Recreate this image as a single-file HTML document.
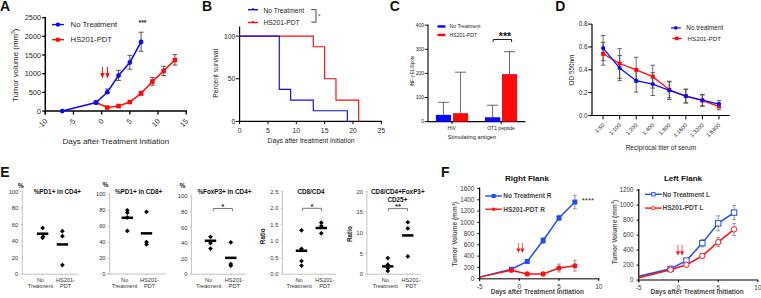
<!DOCTYPE html>
<html><head><meta charset="utf-8"><style>
html,body{margin:0;padding:0;background:#fff;width:761px;height:298px;overflow:hidden}
svg{display:block}
text{font-family:"Liberation Sans", sans-serif}
</style></head><body>
<svg width="761" height="298" viewBox="0 0 761 298">
<rect width="761" height="298" fill="#fff"/>
<text x="0.00" y="10.50" font-size="14" text-anchor="start" font-weight="bold" fill="#111">A</text>
<line x1="45.30" y1="16.90" x2="45.30" y2="114.60" stroke="#000" stroke-width="1.5"/>
<line x1="45.30" y1="111.10" x2="186.88" y2="111.10" stroke="#000" stroke-width="1.5"/>
<line x1="42.20" y1="111.10" x2="45.30" y2="111.10" stroke="#000" stroke-width="1.3"/>
<text x="41.00" y="113.70" font-size="7.3" text-anchor="end" font-weight="normal" fill="#1e1e1e">0</text>
<line x1="42.20" y1="92.40" x2="45.30" y2="92.40" stroke="#000" stroke-width="1.3"/>
<text x="41.00" y="95.00" font-size="7.3" text-anchor="end" font-weight="normal" fill="#1e1e1e">500</text>
<line x1="42.20" y1="73.70" x2="45.30" y2="73.70" stroke="#000" stroke-width="1.3"/>
<text x="41.00" y="76.30" font-size="7.3" text-anchor="end" font-weight="normal" fill="#1e1e1e">1000</text>
<line x1="42.20" y1="55.00" x2="45.30" y2="55.00" stroke="#000" stroke-width="1.3"/>
<text x="41.00" y="57.60" font-size="7.3" text-anchor="end" font-weight="normal" fill="#1e1e1e">1500</text>
<line x1="42.20" y1="36.30" x2="45.30" y2="36.30" stroke="#000" stroke-width="1.3"/>
<text x="41.00" y="38.90" font-size="7.3" text-anchor="end" font-weight="normal" fill="#1e1e1e">2000</text>
<line x1="42.20" y1="17.60" x2="45.30" y2="17.60" stroke="#000" stroke-width="1.3"/>
<text x="41.00" y="20.20" font-size="7.3" text-anchor="end" font-weight="normal" fill="#1e1e1e">2500</text>
<line x1="45.30" y1="111.10" x2="45.30" y2="114.60" stroke="#000" stroke-width="1.3"/>
<text x="47.80" y="121.70" font-size="7.3" text-anchor="end" font-weight="normal" fill="#1e1e1e" transform="rotate(-45 47.8 121.7)">-10</text>
<line x1="73.47" y1="111.10" x2="73.47" y2="114.60" stroke="#000" stroke-width="1.3"/>
<text x="75.97" y="121.70" font-size="7.3" text-anchor="end" font-weight="normal" fill="#1e1e1e" transform="rotate(-45 75.975 121.7)">-5</text>
<line x1="101.65" y1="111.10" x2="101.65" y2="114.60" stroke="#000" stroke-width="1.3"/>
<text x="104.15" y="121.70" font-size="7.3" text-anchor="end" font-weight="normal" fill="#1e1e1e" transform="rotate(-45 104.14999999999999 121.7)">0</text>
<line x1="129.82" y1="111.10" x2="129.82" y2="114.60" stroke="#000" stroke-width="1.3"/>
<text x="132.32" y="121.70" font-size="7.3" text-anchor="end" font-weight="normal" fill="#1e1e1e" transform="rotate(-45 132.325 121.7)">5</text>
<line x1="158.00" y1="111.10" x2="158.00" y2="114.60" stroke="#000" stroke-width="1.3"/>
<text x="160.50" y="121.70" font-size="7.3" text-anchor="end" font-weight="normal" fill="#1e1e1e" transform="rotate(-45 160.5 121.7)">10</text>
<line x1="186.18" y1="111.10" x2="186.18" y2="114.60" stroke="#000" stroke-width="1.3"/>
<text x="188.68" y="121.70" font-size="7.3" text-anchor="end" font-weight="normal" fill="#1e1e1e" transform="rotate(-45 188.675 121.7)">15</text>
<text x="18.30" y="65.30" font-size="7.9" text-anchor="middle" font-weight="normal" fill="#1e1e1e" transform="rotate(-90 18.3 65.3)">Tumor volume (mm<tspan dy="-3" font-size="5">3</tspan><tspan dy="3">)</tspan></text>
<text x="115.80" y="143.60" font-size="8.0" text-anchor="middle" font-weight="normal" fill="#1e1e1e">Days after Treatment Initiation</text>
<line x1="52.00" y1="24.60" x2="63.90" y2="24.60" stroke="#0a0aff" stroke-width="1.4"/>
<circle cx="57.90" cy="24.60" r="2.2" fill="#0a0aff" stroke="none" stroke-width="0"/>
<text x="70.60" y="27.10" font-size="7.7" text-anchor="start" font-weight="normal" fill="#1e1e1e">No Treatment</text>
<line x1="52.00" y1="39.70" x2="63.90" y2="39.70" stroke="#ff0a0a" stroke-width="1.4"/>
<rect x="55.90" y="37.70" width="4.00" height="4.00" fill="#ff0a0a" stroke="none" stroke-width="0"/>
<text x="70.60" y="42.20" font-size="7.7" text-anchor="start" font-weight="normal" fill="#1e1e1e">HS201-PDT</text>
<text x="142.50" y="25.20" font-size="6.8" text-anchor="middle" font-weight="bold" fill="#222">***</text>
<line x1="141.09" y1="91.28" x2="141.09" y2="95.02" stroke="#444" stroke-width="0.9"/>
<line x1="138.69" y1="91.28" x2="143.50" y2="91.28" stroke="#444" stroke-width="0.9"/>
<line x1="138.69" y1="95.02" x2="143.50" y2="95.02" stroke="#444" stroke-width="0.9"/>
<line x1="152.37" y1="77.44" x2="152.37" y2="85.29" stroke="#444" stroke-width="0.9"/>
<line x1="149.97" y1="77.44" x2="154.77" y2="77.44" stroke="#444" stroke-width="0.9"/>
<line x1="149.97" y1="85.29" x2="154.77" y2="85.29" stroke="#444" stroke-width="0.9"/>
<line x1="163.63" y1="66.22" x2="163.63" y2="75.57" stroke="#444" stroke-width="0.9"/>
<line x1="161.23" y1="66.22" x2="166.03" y2="66.22" stroke="#444" stroke-width="0.9"/>
<line x1="161.23" y1="75.57" x2="166.03" y2="75.57" stroke="#444" stroke-width="0.9"/>
<line x1="174.90" y1="54.63" x2="174.90" y2="65.10" stroke="#444" stroke-width="0.9"/>
<line x1="172.50" y1="54.63" x2="177.30" y2="54.63" stroke="#444" stroke-width="0.9"/>
<line x1="172.50" y1="65.10" x2="177.30" y2="65.10" stroke="#444" stroke-width="0.9"/>
<line x1="107.28" y1="89.03" x2="107.28" y2="93.52" stroke="#444" stroke-width="0.9"/>
<line x1="104.88" y1="89.03" x2="109.69" y2="89.03" stroke="#444" stroke-width="0.9"/>
<line x1="104.88" y1="93.52" x2="109.69" y2="93.52" stroke="#444" stroke-width="0.9"/>
<line x1="118.55" y1="70.33" x2="118.55" y2="80.43" stroke="#444" stroke-width="0.9"/>
<line x1="116.15" y1="70.33" x2="120.95" y2="70.33" stroke="#444" stroke-width="0.9"/>
<line x1="116.15" y1="80.43" x2="120.95" y2="80.43" stroke="#444" stroke-width="0.9"/>
<line x1="129.82" y1="55.37" x2="129.82" y2="69.21" stroke="#444" stroke-width="0.9"/>
<line x1="127.42" y1="55.37" x2="132.22" y2="55.37" stroke="#444" stroke-width="0.9"/>
<line x1="127.42" y1="69.21" x2="132.22" y2="69.21" stroke="#444" stroke-width="0.9"/>
<line x1="141.09" y1="32.19" x2="141.09" y2="51.26" stroke="#444" stroke-width="0.9"/>
<line x1="138.69" y1="32.19" x2="143.50" y2="32.19" stroke="#444" stroke-width="0.9"/>
<line x1="138.69" y1="51.26" x2="143.50" y2="51.26" stroke="#444" stroke-width="0.9"/>
<polyline points="96.01,102.50 107.28,107.55 118.55,106.05 129.82,102.01 141.09,93.33 152.37,81.55 163.63,70.89 174.90,60.05" fill="none" stroke="#ff0a0a" stroke-width="1.5"/>
<rect x="93.71" y="100.20" width="4.60" height="4.60" fill="#ff0a0a" stroke="none" stroke-width="0"/>
<rect x="104.98" y="105.25" width="4.60" height="4.60" fill="#ff0a0a" stroke="none" stroke-width="0"/>
<rect x="116.25" y="103.75" width="4.60" height="4.60" fill="#ff0a0a" stroke="none" stroke-width="0"/>
<rect x="127.52" y="99.71" width="4.60" height="4.60" fill="#ff0a0a" stroke="none" stroke-width="0"/>
<rect x="138.79" y="91.03" width="4.60" height="4.60" fill="#ff0a0a" stroke="none" stroke-width="0"/>
<rect x="150.06" y="79.25" width="4.60" height="4.60" fill="#ff0a0a" stroke="none" stroke-width="0"/>
<rect x="161.33" y="68.59" width="4.60" height="4.60" fill="#ff0a0a" stroke="none" stroke-width="0"/>
<rect x="172.60" y="57.75" width="4.60" height="4.60" fill="#ff0a0a" stroke="none" stroke-width="0"/>
<polyline points="62.20,111.10 96.01,102.50 107.28,92.21 118.55,75.53 129.82,62.48 141.09,41.98" fill="none" stroke="#0a0aff" stroke-width="1.5"/>
<circle cx="62.20" cy="111.10" r="2.4" fill="#0a0aff" stroke="none" stroke-width="0"/>
<circle cx="96.01" cy="102.50" r="2.4" fill="#0a0aff" stroke="none" stroke-width="0"/>
<circle cx="107.28" cy="92.21" r="2.4" fill="#0a0aff" stroke="none" stroke-width="0"/>
<circle cx="118.55" cy="75.53" r="2.4" fill="#0a0aff" stroke="none" stroke-width="0"/>
<circle cx="129.82" cy="62.48" r="2.4" fill="#0a0aff" stroke="none" stroke-width="0"/>
<circle cx="141.09" cy="41.98" r="2.4" fill="#0a0aff" stroke="none" stroke-width="0"/>
<line x1="102.40" y1="67.00" x2="102.40" y2="73.50" stroke="#ff0a0a" stroke-width="1.0"/>
<path d="M100.20 73.00L104.60 73.00L102.40 78.50Z" fill="#ff0a0a"/>
<line x1="107.50" y1="67.00" x2="107.50" y2="73.50" stroke="#ff0a0a" stroke-width="1.0"/>
<path d="M105.30 73.00L109.70 73.00L107.50 78.50Z" fill="#ff0a0a"/>
<text x="202.00" y="10.50" font-size="14" text-anchor="start" font-weight="bold" fill="#111">B</text>
<line x1="239.60" y1="26.50" x2="239.60" y2="121.40" stroke="#000" stroke-width="1.2"/>
<line x1="239.60" y1="121.40" x2="381.95" y2="121.40" stroke="#000" stroke-width="1.2"/>
<line x1="235.80" y1="121.40" x2="239.60" y2="121.40" stroke="#000" stroke-width="1.0"/>
<text x="235.40" y="123.90" font-size="6.8" text-anchor="end" font-weight="normal" fill="#1e1e1e">0</text>
<line x1="235.80" y1="78.75" x2="239.60" y2="78.75" stroke="#000" stroke-width="1.0"/>
<text x="235.40" y="81.25" font-size="6.8" text-anchor="end" font-weight="normal" fill="#1e1e1e">50</text>
<line x1="235.80" y1="36.10" x2="239.60" y2="36.10" stroke="#000" stroke-width="1.0"/>
<text x="235.40" y="38.60" font-size="6.8" text-anchor="end" font-weight="normal" fill="#1e1e1e">100</text>
<line x1="239.60" y1="121.40" x2="239.60" y2="124.20" stroke="#000" stroke-width="1.0"/>
<text x="239.60" y="132.80" font-size="6.8" text-anchor="middle" font-weight="normal" fill="#1e1e1e">0</text>
<line x1="267.95" y1="121.40" x2="267.95" y2="124.20" stroke="#000" stroke-width="1.0"/>
<text x="267.95" y="132.80" font-size="6.8" text-anchor="middle" font-weight="normal" fill="#1e1e1e">5</text>
<line x1="296.30" y1="121.40" x2="296.30" y2="124.20" stroke="#000" stroke-width="1.0"/>
<text x="296.30" y="132.80" font-size="6.8" text-anchor="middle" font-weight="normal" fill="#1e1e1e">10</text>
<line x1="324.65" y1="121.40" x2="324.65" y2="124.20" stroke="#000" stroke-width="1.0"/>
<text x="324.65" y="132.80" font-size="6.8" text-anchor="middle" font-weight="normal" fill="#1e1e1e">15</text>
<line x1="353.00" y1="121.40" x2="353.00" y2="124.20" stroke="#000" stroke-width="1.0"/>
<text x="353.00" y="132.80" font-size="6.8" text-anchor="middle" font-weight="normal" fill="#1e1e1e">20</text>
<line x1="381.35" y1="121.40" x2="381.35" y2="124.20" stroke="#000" stroke-width="1.0"/>
<text x="381.35" y="132.80" font-size="6.8" text-anchor="middle" font-weight="normal" fill="#1e1e1e">25</text>
<text x="217.90" y="73.30" font-size="6.9" text-anchor="middle" font-weight="normal" fill="#1e1e1e" transform="rotate(-90 217.9 73.3)">Percent survival</text>
<text x="311.10" y="143.30" font-size="6.7" text-anchor="middle" font-weight="normal" fill="#1e1e1e">Days after treatment initiation</text>
<line x1="248.00" y1="9.70" x2="258.00" y2="9.70" stroke="#0a0aff" stroke-width="1.4"/>
<rect x="252.30" y="8.20" width="1.60" height="1.20" fill="#0a0aff" stroke="none" stroke-width="0"/>
<text x="263.50" y="12.50" font-size="6.7" text-anchor="start" font-weight="normal" fill="#1e1e1e">No Treatment</text>
<line x1="248.00" y1="22.50" x2="258.00" y2="22.50" stroke="#ff0a0a" stroke-width="1.4"/>
<rect x="252.30" y="21.00" width="1.60" height="1.20" fill="#ff0a0a" stroke="none" stroke-width="0"/>
<text x="263.50" y="24.90" font-size="6.7" text-anchor="start" font-weight="normal" fill="#1e1e1e">HS201-PDT</text>
<polyline points="311.30,9.60 316.00,9.60 316.00,22.20 311.30,22.20" fill="none" stroke="#333" stroke-width="0.9"/>
<text x="319.50" y="18.10" font-size="5.8" text-anchor="middle" font-weight="normal" fill="#1e1e1e">*</text>
<polyline points="239.60,36.10 313.31,36.10 313.31,46.76 324.65,46.76 324.65,78.75 335.99,78.75 335.99,100.08 358.67,100.08 358.67,121.40" fill="none" stroke="#ff0a0a" stroke-width="1.15"/>
<polyline points="239.60,36.10 279.29,36.10 279.29,89.41 290.63,89.41 290.63,100.08 313.31,100.08 313.31,110.74 347.33,110.74 347.33,121.40" fill="none" stroke="#0a0aff" stroke-width="1.15"/>
<text x="389.70" y="10.50" font-size="14" text-anchor="start" font-weight="bold" fill="#111">C</text>
<line x1="428.00" y1="24.50" x2="428.00" y2="121.60" stroke="#000" stroke-width="1.1"/>
<line x1="428.00" y1="121.60" x2="525.30" y2="121.60" stroke="#000" stroke-width="1.1"/>
<line x1="424.70" y1="121.60" x2="428.00" y2="121.60" stroke="#000" stroke-width="0.9"/>
<text x="424.00" y="123.40" font-size="5.0" text-anchor="end" font-weight="normal" fill="#1e1e1e">0</text>
<line x1="424.70" y1="97.50" x2="428.00" y2="97.50" stroke="#000" stroke-width="0.9"/>
<text x="424.00" y="99.30" font-size="5.0" text-anchor="end" font-weight="normal" fill="#1e1e1e">100</text>
<line x1="424.70" y1="73.40" x2="428.00" y2="73.40" stroke="#000" stroke-width="0.9"/>
<text x="424.00" y="75.20" font-size="5.0" text-anchor="end" font-weight="normal" fill="#1e1e1e">200</text>
<line x1="424.70" y1="49.30" x2="428.00" y2="49.30" stroke="#000" stroke-width="0.9"/>
<text x="424.00" y="51.10" font-size="5.0" text-anchor="end" font-weight="normal" fill="#1e1e1e">300</text>
<line x1="424.70" y1="25.20" x2="428.00" y2="25.20" stroke="#000" stroke-width="0.9"/>
<text x="424.00" y="27.00" font-size="5.0" text-anchor="end" font-weight="normal" fill="#1e1e1e">400</text>
<line x1="452.00" y1="121.60" x2="452.00" y2="124.20" stroke="#000" stroke-width="0.9"/>
<line x1="501.10" y1="121.60" x2="501.10" y2="124.20" stroke="#000" stroke-width="0.9"/>
<text x="451.70" y="129.70" font-size="5" text-anchor="middle" font-weight="normal" fill="#1e1e1e">HIV</text>
<text x="501.00" y="129.70" font-size="5" text-anchor="middle" font-weight="normal" fill="#1e1e1e">OT1 peptide</text>
<text x="472.00" y="138.90" font-size="5.7" text-anchor="middle" font-weight="normal" fill="#1e1e1e">Stimulating antigen</text>
<text x="413.60" y="71.00" font-size="4.5" text-anchor="middle" font-weight="normal" fill="#1e1e1e" transform="rotate(-90 413.6 71.0)">INF-γ ELISpots</text>
<rect x="437.50" y="25.20" width="8.00" height="2.50" fill="#0a0aff" stroke="none" stroke-width="0"/>
<text x="449.60" y="28.20" font-size="5.1" text-anchor="start" font-weight="normal" fill="#1e1e1e">No Treatment</text>
<rect x="437.50" y="33.70" width="8.00" height="2.50" fill="#ff0a0a" stroke="none" stroke-width="0"/>
<text x="449.60" y="36.70" font-size="5.1" text-anchor="start" font-weight="normal" fill="#1e1e1e">HS201-PDT</text>
<line x1="443.45" y1="114.85" x2="443.45" y2="102.32" stroke="#444" stroke-width="0.8"/>
<line x1="437.95" y1="102.32" x2="448.95" y2="102.32" stroke="#444" stroke-width="0.8"/>
<rect x="435.90" y="114.85" width="15.10" height="6.75" fill="#0a0aff" stroke="none" stroke-width="0"/>
<line x1="460.55" y1="113.16" x2="460.55" y2="72.19" stroke="#444" stroke-width="0.8"/>
<line x1="455.05" y1="72.19" x2="466.05" y2="72.19" stroke="#444" stroke-width="0.8"/>
<rect x="453.00" y="113.16" width="15.10" height="8.44" fill="#ff0a0a" stroke="none" stroke-width="0"/>
<line x1="492.60" y1="117.26" x2="492.60" y2="105.21" stroke="#444" stroke-width="0.8"/>
<line x1="487.10" y1="105.21" x2="498.10" y2="105.21" stroke="#444" stroke-width="0.8"/>
<rect x="484.90" y="117.26" width="15.40" height="4.34" fill="#0a0aff" stroke="none" stroke-width="0"/>
<line x1="509.50" y1="74.12" x2="509.50" y2="51.71" stroke="#444" stroke-width="0.8"/>
<line x1="504.00" y1="51.71" x2="515.00" y2="51.71" stroke="#444" stroke-width="0.8"/>
<rect x="502.00" y="74.12" width="15.00" height="47.48" fill="#ff0a0a" stroke="none" stroke-width="0"/>
<polyline points="493.20,42.00 493.20,39.50 511.60,39.50 511.60,42.00" fill="none" stroke="#222" stroke-width="1.0"/>
<text x="505.00" y="40.20" font-size="10.5" text-anchor="middle" font-weight="bold" fill="#111">***</text>
<text x="555.20" y="10.50" font-size="14" text-anchor="start" font-weight="bold" fill="#111">D</text>
<line x1="592.00" y1="24.00" x2="592.00" y2="115.50" stroke="#000" stroke-width="1.2"/>
<line x1="592.00" y1="115.50" x2="729.70" y2="115.50" stroke="#000" stroke-width="1.2"/>
<line x1="588.20" y1="115.50" x2="592.00" y2="115.50" stroke="#000" stroke-width="1.0"/>
<text x="587.60" y="117.70" font-size="6.3" text-anchor="end" font-weight="normal" fill="#1e1e1e">0.0</text>
<line x1="588.20" y1="92.65" x2="592.00" y2="92.65" stroke="#000" stroke-width="1.0"/>
<text x="587.60" y="94.85" font-size="6.3" text-anchor="end" font-weight="normal" fill="#1e1e1e">0.2</text>
<line x1="588.20" y1="69.80" x2="592.00" y2="69.80" stroke="#000" stroke-width="1.0"/>
<text x="587.60" y="72.00" font-size="6.3" text-anchor="end" font-weight="normal" fill="#1e1e1e">0.4</text>
<line x1="588.20" y1="46.95" x2="592.00" y2="46.95" stroke="#000" stroke-width="1.0"/>
<text x="587.60" y="49.15" font-size="6.3" text-anchor="end" font-weight="normal" fill="#1e1e1e">0.6</text>
<line x1="588.20" y1="24.10" x2="592.00" y2="24.10" stroke="#000" stroke-width="1.0"/>
<text x="587.60" y="26.30" font-size="6.3" text-anchor="end" font-weight="normal" fill="#1e1e1e">0.8</text>
<line x1="603.10" y1="115.50" x2="603.10" y2="119.40" stroke="#000" stroke-width="1.0"/>
<text x="604.80" y="125.50" font-size="5.6" text-anchor="end" font-weight="normal" fill="#1e1e1e" transform="rotate(-45 604.8000000000001 125.5)">1:50</text>
<line x1="619.65" y1="115.50" x2="619.65" y2="119.40" stroke="#000" stroke-width="1.0"/>
<text x="621.35" y="125.50" font-size="5.6" text-anchor="end" font-weight="normal" fill="#1e1e1e" transform="rotate(-45 621.35 125.5)">1:100</text>
<line x1="636.20" y1="115.50" x2="636.20" y2="119.40" stroke="#000" stroke-width="1.0"/>
<text x="637.90" y="125.50" font-size="5.6" text-anchor="end" font-weight="normal" fill="#1e1e1e" transform="rotate(-45 637.9000000000001 125.5)">1:200</text>
<line x1="652.75" y1="115.50" x2="652.75" y2="119.40" stroke="#000" stroke-width="1.0"/>
<text x="654.45" y="125.50" font-size="5.6" text-anchor="end" font-weight="normal" fill="#1e1e1e" transform="rotate(-45 654.45 125.5)">1:400</text>
<line x1="669.30" y1="115.50" x2="669.30" y2="119.40" stroke="#000" stroke-width="1.0"/>
<text x="671.00" y="125.50" font-size="5.6" text-anchor="end" font-weight="normal" fill="#1e1e1e" transform="rotate(-45 671.0000000000001 125.5)">1:800</text>
<line x1="685.85" y1="115.50" x2="685.85" y2="119.40" stroke="#000" stroke-width="1.0"/>
<text x="687.55" y="125.50" font-size="5.6" text-anchor="end" font-weight="normal" fill="#1e1e1e" transform="rotate(-45 687.5500000000001 125.5)">1:1600</text>
<line x1="702.40" y1="115.50" x2="702.40" y2="119.40" stroke="#000" stroke-width="1.0"/>
<text x="704.10" y="125.50" font-size="5.6" text-anchor="end" font-weight="normal" fill="#1e1e1e" transform="rotate(-45 704.1000000000001 125.5)">1:3200</text>
<line x1="718.95" y1="115.50" x2="718.95" y2="119.40" stroke="#000" stroke-width="1.0"/>
<text x="720.65" y="125.50" font-size="5.6" text-anchor="end" font-weight="normal" fill="#1e1e1e" transform="rotate(-45 720.6500000000001 125.5)">1:6400</text>
<text x="574.40" y="70.00" font-size="6.4" text-anchor="middle" font-weight="normal" fill="#1e1e1e" transform="rotate(-90 574.4 70)">OD 550nm</text>
<text x="660.90" y="150.00" font-size="6.5" text-anchor="middle" font-weight="normal" fill="#1e1e1e">Reciprocal titer of serum</text>
<line x1="671.00" y1="27.90" x2="680.80" y2="27.90" stroke="#0a0aff" stroke-width="1.2"/>
<circle cx="675.70" cy="27.90" r="1.8" fill="#0a0aff" stroke="none" stroke-width="0"/>
<text x="686.30" y="29.80" font-size="6.4" text-anchor="start" font-weight="normal" fill="#1e1e1e">No treatment</text>
<line x1="672.30" y1="38.40" x2="681.70" y2="38.40" stroke="#ff0a0a" stroke-width="1.2"/>
<rect x="675.00" y="36.60" width="3.60" height="3.60" fill="#ff0a0a" stroke="none" stroke-width="0"/>
<text x="687.60" y="40.90" font-size="6.2" text-anchor="start" font-weight="normal" fill="#1e1e1e">HS201-PDT</text>
<line x1="603.10" y1="35.53" x2="603.10" y2="60.66" stroke="#444" stroke-width="0.8"/>
<line x1="600.80" y1="35.53" x2="605.40" y2="35.53" stroke="#444" stroke-width="0.8"/>
<line x1="600.80" y1="60.66" x2="605.40" y2="60.66" stroke="#444" stroke-width="0.8"/>
<line x1="603.10" y1="42.38" x2="603.10" y2="65.23" stroke="#444" stroke-width="0.8"/>
<line x1="600.80" y1="42.38" x2="605.40" y2="42.38" stroke="#444" stroke-width="0.8"/>
<line x1="600.80" y1="65.23" x2="605.40" y2="65.23" stroke="#444" stroke-width="0.8"/>
<line x1="619.65" y1="55.52" x2="619.65" y2="80.65" stroke="#444" stroke-width="0.8"/>
<line x1="617.35" y1="55.52" x2="621.95" y2="55.52" stroke="#444" stroke-width="0.8"/>
<line x1="617.35" y1="80.65" x2="621.95" y2="80.65" stroke="#444" stroke-width="0.8"/>
<line x1="619.65" y1="48.66" x2="619.65" y2="78.37" stroke="#444" stroke-width="0.8"/>
<line x1="617.35" y1="48.66" x2="621.95" y2="48.66" stroke="#444" stroke-width="0.8"/>
<line x1="617.35" y1="78.37" x2="621.95" y2="78.37" stroke="#444" stroke-width="0.8"/>
<line x1="636.20" y1="69.23" x2="636.20" y2="92.08" stroke="#444" stroke-width="0.8"/>
<line x1="633.90" y1="69.23" x2="638.50" y2="69.23" stroke="#444" stroke-width="0.8"/>
<line x1="633.90" y1="92.08" x2="638.50" y2="92.08" stroke="#444" stroke-width="0.8"/>
<line x1="636.20" y1="57.23" x2="636.20" y2="82.37" stroke="#444" stroke-width="0.8"/>
<line x1="633.90" y1="57.23" x2="638.50" y2="57.23" stroke="#444" stroke-width="0.8"/>
<line x1="633.90" y1="82.37" x2="638.50" y2="82.37" stroke="#444" stroke-width="0.8"/>
<line x1="652.75" y1="72.66" x2="652.75" y2="95.51" stroke="#444" stroke-width="0.8"/>
<line x1="650.45" y1="72.66" x2="655.05" y2="72.66" stroke="#444" stroke-width="0.8"/>
<line x1="650.45" y1="95.51" x2="655.05" y2="95.51" stroke="#444" stroke-width="0.8"/>
<line x1="652.75" y1="65.23" x2="652.75" y2="88.08" stroke="#444" stroke-width="0.8"/>
<line x1="650.45" y1="65.23" x2="655.05" y2="65.23" stroke="#444" stroke-width="0.8"/>
<line x1="650.45" y1="88.08" x2="655.05" y2="88.08" stroke="#444" stroke-width="0.8"/>
<line x1="669.30" y1="81.22" x2="669.30" y2="99.50" stroke="#444" stroke-width="0.8"/>
<line x1="667.00" y1="81.22" x2="671.60" y2="81.22" stroke="#444" stroke-width="0.8"/>
<line x1="667.00" y1="99.50" x2="671.60" y2="99.50" stroke="#444" stroke-width="0.8"/>
<line x1="669.30" y1="81.80" x2="669.30" y2="97.79" stroke="#444" stroke-width="0.8"/>
<line x1="667.00" y1="81.80" x2="671.60" y2="81.80" stroke="#444" stroke-width="0.8"/>
<line x1="667.00" y1="97.79" x2="671.60" y2="97.79" stroke="#444" stroke-width="0.8"/>
<line x1="685.85" y1="89.22" x2="685.85" y2="102.93" stroke="#444" stroke-width="0.8"/>
<line x1="683.55" y1="89.22" x2="688.15" y2="89.22" stroke="#444" stroke-width="0.8"/>
<line x1="683.55" y1="102.93" x2="688.15" y2="102.93" stroke="#444" stroke-width="0.8"/>
<line x1="685.85" y1="89.22" x2="685.85" y2="102.93" stroke="#444" stroke-width="0.8"/>
<line x1="683.55" y1="89.22" x2="688.15" y2="89.22" stroke="#444" stroke-width="0.8"/>
<line x1="683.55" y1="102.93" x2="688.15" y2="102.93" stroke="#444" stroke-width="0.8"/>
<line x1="702.40" y1="94.36" x2="702.40" y2="105.79" stroke="#444" stroke-width="0.8"/>
<line x1="700.10" y1="94.36" x2="704.70" y2="94.36" stroke="#444" stroke-width="0.8"/>
<line x1="700.10" y1="105.79" x2="704.70" y2="105.79" stroke="#444" stroke-width="0.8"/>
<line x1="702.40" y1="94.94" x2="702.40" y2="106.36" stroke="#444" stroke-width="0.8"/>
<line x1="700.10" y1="94.94" x2="704.70" y2="94.94" stroke="#444" stroke-width="0.8"/>
<line x1="700.10" y1="106.36" x2="704.70" y2="106.36" stroke="#444" stroke-width="0.8"/>
<line x1="718.95" y1="100.65" x2="718.95" y2="107.50" stroke="#444" stroke-width="0.8"/>
<line x1="716.65" y1="100.65" x2="721.25" y2="100.65" stroke="#444" stroke-width="0.8"/>
<line x1="716.65" y1="107.50" x2="721.25" y2="107.50" stroke="#444" stroke-width="0.8"/>
<line x1="718.95" y1="102.93" x2="718.95" y2="109.79" stroke="#444" stroke-width="0.8"/>
<line x1="716.65" y1="102.93" x2="721.25" y2="102.93" stroke="#444" stroke-width="0.8"/>
<line x1="716.65" y1="109.79" x2="721.25" y2="109.79" stroke="#444" stroke-width="0.8"/>
<polyline points="603.10,53.80 619.65,63.52 636.20,69.80 652.75,76.66 669.30,89.79 685.85,96.08 702.40,100.65 718.95,106.36" fill="none" stroke="#ff0a0a" stroke-width="1.3"/>
<rect x="601.10" y="51.80" width="4.00" height="4.00" fill="#ff0a0a" stroke="none" stroke-width="0"/>
<rect x="617.65" y="61.52" width="4.00" height="4.00" fill="#ff0a0a" stroke="none" stroke-width="0"/>
<rect x="634.20" y="67.80" width="4.00" height="4.00" fill="#ff0a0a" stroke="none" stroke-width="0"/>
<rect x="650.75" y="74.66" width="4.00" height="4.00" fill="#ff0a0a" stroke="none" stroke-width="0"/>
<rect x="667.30" y="87.79" width="4.00" height="4.00" fill="#ff0a0a" stroke="none" stroke-width="0"/>
<rect x="683.85" y="94.08" width="4.00" height="4.00" fill="#ff0a0a" stroke="none" stroke-width="0"/>
<rect x="700.40" y="98.65" width="4.00" height="4.00" fill="#ff0a0a" stroke="none" stroke-width="0"/>
<rect x="716.95" y="104.36" width="4.00" height="4.00" fill="#ff0a0a" stroke="none" stroke-width="0"/>
<polyline points="603.10,48.09 619.65,68.09 636.20,80.65 652.75,84.08 669.30,90.36 685.85,96.08 702.40,100.08 718.95,104.08" fill="none" stroke="#0a0aff" stroke-width="1.3"/>
<circle cx="603.10" cy="48.09" r="2.1" fill="#0a0aff" stroke="none" stroke-width="0"/>
<circle cx="619.65" cy="68.09" r="2.1" fill="#0a0aff" stroke="none" stroke-width="0"/>
<circle cx="636.20" cy="80.65" r="2.1" fill="#0a0aff" stroke="none" stroke-width="0"/>
<circle cx="652.75" cy="84.08" r="2.1" fill="#0a0aff" stroke="none" stroke-width="0"/>
<circle cx="669.30" cy="90.36" r="2.1" fill="#0a0aff" stroke="none" stroke-width="0"/>
<circle cx="685.85" cy="96.08" r="2.1" fill="#0a0aff" stroke="none" stroke-width="0"/>
<circle cx="702.40" cy="100.08" r="2.1" fill="#0a0aff" stroke="none" stroke-width="0"/>
<circle cx="718.95" cy="104.08" r="2.1" fill="#0a0aff" stroke="none" stroke-width="0"/>
<text x="0.30" y="176.80" font-size="14" text-anchor="start" font-weight="bold" fill="#111">E</text>
<line x1="22.30" y1="190.50" x2="22.30" y2="274.20" stroke="#b4b4b4" stroke-width="0.8"/>
<line x1="22.30" y1="274.20" x2="78.00" y2="274.20" stroke="#b4b4b4" stroke-width="0.8"/>
<line x1="20.50" y1="274.20" x2="22.30" y2="274.20" stroke="#b4b4b4" stroke-width="0.7"/>
<text x="18.30" y="276.20" font-size="5.8" text-anchor="end" font-weight="normal" fill="#333">0</text>
<line x1="20.50" y1="257.66" x2="22.30" y2="257.66" stroke="#b4b4b4" stroke-width="0.7"/>
<text x="18.30" y="259.66" font-size="5.8" text-anchor="end" font-weight="normal" fill="#333">20</text>
<line x1="20.50" y1="241.12" x2="22.30" y2="241.12" stroke="#b4b4b4" stroke-width="0.7"/>
<text x="18.30" y="243.12" font-size="5.8" text-anchor="end" font-weight="normal" fill="#333">40</text>
<line x1="20.50" y1="224.58" x2="22.30" y2="224.58" stroke="#b4b4b4" stroke-width="0.7"/>
<text x="18.30" y="226.58" font-size="5.8" text-anchor="end" font-weight="normal" fill="#333">60</text>
<line x1="20.50" y1="208.04" x2="22.30" y2="208.04" stroke="#b4b4b4" stroke-width="0.7"/>
<text x="18.30" y="210.04" font-size="5.8" text-anchor="end" font-weight="normal" fill="#333">80</text>
<line x1="20.50" y1="191.50" x2="22.30" y2="191.50" stroke="#b4b4b4" stroke-width="0.7"/>
<text x="18.30" y="193.50" font-size="5.8" text-anchor="end" font-weight="normal" fill="#333">100</text>
<line x1="42.60" y1="274.20" x2="42.60" y2="275.80" stroke="#b4b4b4" stroke-width="0.7"/>
<line x1="62.40" y1="274.20" x2="62.40" y2="275.80" stroke="#b4b4b4" stroke-width="0.7"/>
<text x="57.30" y="193.90" font-size="6.35" text-anchor="middle" font-weight="bold" fill="#111">%PD1+ in CD4+</text>
<text x="20.85" y="187.90" font-size="6.7" text-anchor="middle" font-weight="bold" fill="#111">%</text>
<path d="M42.60 225.54L44.95 227.89L42.60 230.24L40.25 227.89Z" fill="#000"/>
<path d="M42.60 235.46L44.95 237.81L42.60 240.16L40.25 237.81Z" fill="#000"/>
<path d="M43.10 234.22L45.45 236.57L43.10 238.92L40.75 236.57Z" fill="#000"/>
<rect x="36.90" y="232.43" width="11.40" height="2.50" fill="#000" stroke="none" stroke-width="0"/>
<path d="M62.40 228.85L64.75 231.20L62.40 233.55L60.05 231.20Z" fill="#000"/>
<path d="M62.40 233.81L64.75 236.16L62.40 238.51L60.05 236.16Z" fill="#000"/>
<path d="M62.40 262.75L64.75 265.10L62.40 267.45L60.05 265.10Z" fill="#000"/>
<rect x="56.70" y="243.18" width="11.40" height="2.50" fill="#000" stroke="none" stroke-width="0"/>
<text x="40.50" y="281.70" font-size="5.6" text-anchor="middle" font-weight="normal" fill="#333">No</text>
<text x="40.50" y="288.30" font-size="5.6" text-anchor="middle" font-weight="normal" fill="#333">Treatment</text>
<text x="65.50" y="281.70" font-size="5.6" text-anchor="middle" font-weight="normal" fill="#333">HS201-</text>
<text x="65.50" y="288.30" font-size="5.6" text-anchor="middle" font-weight="normal" fill="#333">PDT</text>
<line x1="109.60" y1="193.30" x2="109.60" y2="274.00" stroke="#b4b4b4" stroke-width="0.8"/>
<line x1="107.00" y1="274.00" x2="166.00" y2="274.00" stroke="#b4b4b4" stroke-width="0.8"/>
<line x1="107.80" y1="274.00" x2="109.60" y2="274.00" stroke="#b4b4b4" stroke-width="0.7"/>
<text x="105.60" y="276.00" font-size="5.8" text-anchor="end" font-weight="normal" fill="#333">0</text>
<line x1="107.80" y1="258.06" x2="109.60" y2="258.06" stroke="#b4b4b4" stroke-width="0.7"/>
<text x="105.60" y="260.06" font-size="5.8" text-anchor="end" font-weight="normal" fill="#333">20</text>
<line x1="107.80" y1="242.12" x2="109.60" y2="242.12" stroke="#b4b4b4" stroke-width="0.7"/>
<text x="105.60" y="244.12" font-size="5.8" text-anchor="end" font-weight="normal" fill="#333">40</text>
<line x1="107.80" y1="226.18" x2="109.60" y2="226.18" stroke="#b4b4b4" stroke-width="0.7"/>
<text x="105.60" y="228.18" font-size="5.8" text-anchor="end" font-weight="normal" fill="#333">60</text>
<line x1="107.80" y1="210.24" x2="109.60" y2="210.24" stroke="#b4b4b4" stroke-width="0.7"/>
<text x="105.60" y="212.24" font-size="5.8" text-anchor="end" font-weight="normal" fill="#333">80</text>
<line x1="107.80" y1="194.30" x2="109.60" y2="194.30" stroke="#b4b4b4" stroke-width="0.7"/>
<text x="105.60" y="196.30" font-size="5.8" text-anchor="end" font-weight="normal" fill="#333">100</text>
<line x1="127.30" y1="274.00" x2="127.30" y2="275.60" stroke="#b4b4b4" stroke-width="0.7"/>
<line x1="146.50" y1="274.00" x2="146.50" y2="275.60" stroke="#b4b4b4" stroke-width="0.7"/>
<text x="138.60" y="194.20" font-size="6.35" text-anchor="middle" font-weight="bold" fill="#111">%PD1+ in CD8+</text>
<text x="105.60" y="187.40" font-size="6.7" text-anchor="middle" font-weight="bold" fill="#111">%</text>
<path d="M127.30 207.89L129.65 210.24L127.30 212.59L124.95 210.24Z" fill="#000"/>
<path d="M127.30 210.28L129.65 212.63L127.30 214.98L124.95 212.63Z" fill="#000"/>
<path d="M127.30 215.06L129.65 217.41L127.30 219.76L124.95 217.41Z" fill="#000"/>
<path d="M127.30 228.61L129.65 230.96L127.30 233.31L124.95 230.96Z" fill="#000"/>
<rect x="121.60" y="216.56" width="11.40" height="2.50" fill="#000" stroke="none" stroke-width="0"/>
<path d="M146.50 209.48L148.85 211.83L146.50 214.18L144.15 211.83Z" fill="#000"/>
<path d="M146.50 239.77L148.85 242.12L146.50 244.47L144.15 242.12Z" fill="#000"/>
<path d="M146.50 242.16L148.85 244.51L146.50 246.86L144.15 244.51Z" fill="#000"/>
<rect x="140.80" y="232.10" width="11.40" height="2.50" fill="#000" stroke="none" stroke-width="0"/>
<text x="124.70" y="281.70" font-size="5.6" text-anchor="middle" font-weight="normal" fill="#333">No</text>
<text x="124.70" y="288.30" font-size="5.6" text-anchor="middle" font-weight="normal" fill="#333">Treatment</text>
<text x="149.50" y="281.70" font-size="5.6" text-anchor="middle" font-weight="normal" fill="#333">HS201-</text>
<text x="149.50" y="288.30" font-size="5.6" text-anchor="middle" font-weight="normal" fill="#333">PDT</text>
<line x1="191.40" y1="195.40" x2="191.40" y2="274.20" stroke="#b4b4b4" stroke-width="0.8"/>
<line x1="191.40" y1="274.20" x2="246.00" y2="274.20" stroke="#b4b4b4" stroke-width="0.8"/>
<line x1="189.60" y1="274.20" x2="191.40" y2="274.20" stroke="#b4b4b4" stroke-width="0.7"/>
<text x="187.40" y="276.20" font-size="5.8" text-anchor="end" font-weight="normal" fill="#333">0</text>
<line x1="189.60" y1="258.64" x2="191.40" y2="258.64" stroke="#b4b4b4" stroke-width="0.7"/>
<text x="187.40" y="260.64" font-size="5.8" text-anchor="end" font-weight="normal" fill="#333">20</text>
<line x1="189.60" y1="243.08" x2="191.40" y2="243.08" stroke="#b4b4b4" stroke-width="0.7"/>
<text x="187.40" y="245.08" font-size="5.8" text-anchor="end" font-weight="normal" fill="#333">40</text>
<line x1="189.60" y1="227.52" x2="191.40" y2="227.52" stroke="#b4b4b4" stroke-width="0.7"/>
<text x="187.40" y="229.52" font-size="5.8" text-anchor="end" font-weight="normal" fill="#333">60</text>
<line x1="189.60" y1="211.96" x2="191.40" y2="211.96" stroke="#b4b4b4" stroke-width="0.7"/>
<text x="187.40" y="213.96" font-size="5.8" text-anchor="end" font-weight="normal" fill="#333">80</text>
<line x1="189.60" y1="196.40" x2="191.40" y2="196.40" stroke="#b4b4b4" stroke-width="0.7"/>
<text x="187.40" y="198.40" font-size="5.8" text-anchor="end" font-weight="normal" fill="#333">100</text>
<line x1="210.50" y1="274.20" x2="210.50" y2="275.80" stroke="#b4b4b4" stroke-width="0.7"/>
<line x1="230.80" y1="274.20" x2="230.80" y2="275.80" stroke="#b4b4b4" stroke-width="0.7"/>
<text x="224.40" y="194.10" font-size="6.35" text-anchor="middle" font-weight="bold" fill="#111">%FoxP3+ in CD4+</text>
<text x="182.60" y="187.90" font-size="6.7" text-anchor="middle" font-weight="bold" fill="#111">%</text>
<path d="M210.50 234.51L212.85 236.86L210.50 239.21L208.15 236.86Z" fill="#000"/>
<path d="M210.50 240.73L212.85 243.08L210.50 245.43L208.15 243.08Z" fill="#000"/>
<path d="M210.50 246.18L212.85 248.53L210.50 250.88L208.15 248.53Z" fill="#000"/>
<rect x="204.80" y="239.50" width="11.40" height="2.50" fill="#000" stroke="none" stroke-width="0"/>
<path d="M230.80 239.95L233.15 242.30L230.80 244.65L228.45 242.30Z" fill="#000"/>
<path d="M230.80 261.74L233.15 264.09L230.80 266.44L228.45 264.09Z" fill="#000"/>
<path d="M230.80 263.29L233.15 265.64L230.80 267.99L228.45 265.64Z" fill="#000"/>
<rect x="225.10" y="256.61" width="11.40" height="2.50" fill="#000" stroke="none" stroke-width="0"/>
<text x="208.70" y="281.70" font-size="5.6" text-anchor="middle" font-weight="normal" fill="#333">No</text>
<text x="208.70" y="288.30" font-size="5.6" text-anchor="middle" font-weight="normal" fill="#333">Treatment</text>
<text x="234.30" y="281.70" font-size="5.6" text-anchor="middle" font-weight="normal" fill="#333">HS201-</text>
<text x="234.30" y="288.30" font-size="5.6" text-anchor="middle" font-weight="normal" fill="#333">PDT</text>
<polyline points="213.30,211.10 213.30,208.50 232.40,208.50 232.40,211.10" fill="none" stroke="#555" stroke-width="0.8"/>
<text x="222.85" y="208.60" font-size="7.8" text-anchor="middle" font-weight="bold" fill="#222">*</text>
<line x1="282.40" y1="190.70" x2="282.40" y2="274.20" stroke="#b4b4b4" stroke-width="0.8"/>
<line x1="282.40" y1="274.20" x2="336.00" y2="274.20" stroke="#b4b4b4" stroke-width="0.8"/>
<line x1="280.60" y1="274.20" x2="282.40" y2="274.20" stroke="#b4b4b4" stroke-width="0.7"/>
<text x="278.40" y="276.20" font-size="5.8" text-anchor="end" font-weight="normal" fill="#333">0.0</text>
<line x1="280.60" y1="257.70" x2="282.40" y2="257.70" stroke="#b4b4b4" stroke-width="0.7"/>
<text x="278.40" y="259.70" font-size="5.8" text-anchor="end" font-weight="normal" fill="#333">0.5</text>
<line x1="280.60" y1="241.20" x2="282.40" y2="241.20" stroke="#b4b4b4" stroke-width="0.7"/>
<text x="278.40" y="243.20" font-size="5.8" text-anchor="end" font-weight="normal" fill="#333">1.0</text>
<line x1="280.60" y1="224.70" x2="282.40" y2="224.70" stroke="#b4b4b4" stroke-width="0.7"/>
<text x="278.40" y="226.70" font-size="5.8" text-anchor="end" font-weight="normal" fill="#333">1.5</text>
<line x1="280.60" y1="208.20" x2="282.40" y2="208.20" stroke="#b4b4b4" stroke-width="0.7"/>
<text x="278.40" y="210.20" font-size="5.8" text-anchor="end" font-weight="normal" fill="#333">2.0</text>
<line x1="280.60" y1="191.70" x2="282.40" y2="191.70" stroke="#b4b4b4" stroke-width="0.7"/>
<text x="278.40" y="193.70" font-size="5.8" text-anchor="end" font-weight="normal" fill="#333">2.5</text>
<line x1="301.50" y1="274.20" x2="301.50" y2="275.80" stroke="#b4b4b4" stroke-width="0.7"/>
<line x1="321.30" y1="274.20" x2="321.30" y2="275.80" stroke="#b4b4b4" stroke-width="0.7"/>
<text x="311.00" y="194.10" font-size="6.35" text-anchor="middle" font-weight="bold" fill="#111">CD8/CD4</text>
<text x="264.80" y="236.20" font-size="6.4" text-anchor="middle" font-weight="bold" fill="#111" transform="rotate(-90 264.8 236.2)">Ratio</text>
<path d="M301.50 227.96L303.85 230.31L301.50 232.66L299.15 230.31Z" fill="#000"/>
<path d="M301.50 246.44L303.85 248.79L301.50 251.14L299.15 248.79Z" fill="#000"/>
<path d="M301.50 258.65L303.85 261.00L301.50 263.35L299.15 261.00Z" fill="#000"/>
<path d="M301.50 263.27L303.85 265.62L301.50 267.97L299.15 265.62Z" fill="#000"/>
<rect x="295.80" y="249.52" width="11.40" height="2.50" fill="#000" stroke="none" stroke-width="0"/>
<path d="M321.30 220.37L323.65 222.72L321.30 225.07L318.95 222.72Z" fill="#000"/>
<path d="M321.30 223.67L323.65 226.02L321.30 228.37L318.95 226.02Z" fill="#000"/>
<path d="M321.30 230.93L323.65 233.28L321.30 235.63L318.95 233.28Z" fill="#000"/>
<rect x="315.60" y="226.75" width="11.40" height="2.50" fill="#000" stroke="none" stroke-width="0"/>
<text x="299.10" y="281.70" font-size="5.6" text-anchor="middle" font-weight="normal" fill="#333">No</text>
<text x="299.10" y="288.30" font-size="5.6" text-anchor="middle" font-weight="normal" fill="#333">Treatment</text>
<text x="324.80" y="281.70" font-size="5.6" text-anchor="middle" font-weight="normal" fill="#333">HS201-</text>
<text x="324.80" y="288.30" font-size="5.6" text-anchor="middle" font-weight="normal" fill="#333">PDT</text>
<polyline points="302.40,210.90 302.40,208.30 321.50,208.30 321.50,210.90" fill="none" stroke="#555" stroke-width="0.8"/>
<text x="311.95" y="208.50" font-size="7.8" text-anchor="middle" font-weight="bold" fill="#222">*</text>
<line x1="366.90" y1="190.70" x2="366.90" y2="274.20" stroke="#b4b4b4" stroke-width="0.8"/>
<line x1="366.90" y1="274.20" x2="421.00" y2="274.20" stroke="#b4b4b4" stroke-width="0.8"/>
<line x1="365.10" y1="274.20" x2="366.90" y2="274.20" stroke="#b4b4b4" stroke-width="0.7"/>
<text x="362.90" y="276.20" font-size="5.8" text-anchor="end" font-weight="normal" fill="#333">0</text>
<line x1="365.10" y1="253.57" x2="366.90" y2="253.57" stroke="#b4b4b4" stroke-width="0.7"/>
<text x="362.90" y="255.57" font-size="5.8" text-anchor="end" font-weight="normal" fill="#333">5</text>
<line x1="365.10" y1="232.95" x2="366.90" y2="232.95" stroke="#b4b4b4" stroke-width="0.7"/>
<text x="362.90" y="234.95" font-size="5.8" text-anchor="end" font-weight="normal" fill="#333">10</text>
<line x1="365.10" y1="212.32" x2="366.90" y2="212.32" stroke="#b4b4b4" stroke-width="0.7"/>
<text x="362.90" y="214.32" font-size="5.8" text-anchor="end" font-weight="normal" fill="#333">15</text>
<line x1="365.10" y1="191.70" x2="366.90" y2="191.70" stroke="#b4b4b4" stroke-width="0.7"/>
<text x="362.90" y="193.70" font-size="5.8" text-anchor="end" font-weight="normal" fill="#333">20</text>
<line x1="387.80" y1="274.20" x2="387.80" y2="275.80" stroke="#b4b4b4" stroke-width="0.7"/>
<line x1="407.80" y1="274.20" x2="407.80" y2="275.80" stroke="#b4b4b4" stroke-width="0.7"/>
<text x="397.80" y="194.00" font-size="6.35" text-anchor="middle" font-weight="bold" fill="#111">CD8/CD4+FoxP3+</text>
<text x="397.40" y="202.20" font-size="6.35" text-anchor="middle" font-weight="bold" fill="#111">CD25+</text>
<text x="352.40" y="234.10" font-size="6.4" text-anchor="middle" font-weight="bold" fill="#111" transform="rotate(-90 352.4 234.1)">Ratio</text>
<path d="M387.80 255.76L390.15 258.11L387.80 260.46L385.45 258.11Z" fill="#000"/>
<path d="M387.80 262.36L390.15 264.71L387.80 267.06L385.45 264.71Z" fill="#000"/>
<path d="M387.80 265.66L390.15 268.01L387.80 270.36L385.45 268.01Z" fill="#000"/>
<path d="M387.80 268.55L390.15 270.90L387.80 273.25L385.45 270.90Z" fill="#000"/>
<rect x="382.10" y="265.11" width="11.40" height="2.50" fill="#000" stroke="none" stroke-width="0"/>
<path d="M407.80 219.88L410.15 222.22L407.80 224.57L405.45 222.22Z" fill="#000"/>
<path d="M407.80 226.06L410.15 228.41L407.80 230.76L405.45 228.41Z" fill="#000"/>
<path d="M407.80 254.11L410.15 256.46L407.80 258.81L405.45 256.46Z" fill="#000"/>
<rect x="402.10" y="234.17" width="11.40" height="2.50" fill="#000" stroke="none" stroke-width="0"/>
<text x="385.30" y="281.70" font-size="5.6" text-anchor="middle" font-weight="normal" fill="#333">No</text>
<text x="385.30" y="288.30" font-size="5.6" text-anchor="middle" font-weight="normal" fill="#333">Treatment</text>
<text x="411.00" y="281.70" font-size="5.6" text-anchor="middle" font-weight="normal" fill="#333">HS201-</text>
<text x="411.00" y="288.30" font-size="5.6" text-anchor="middle" font-weight="normal" fill="#333">PDT</text>
<polyline points="388.40,211.20 388.40,208.60 407.50,208.60 407.50,211.20" fill="none" stroke="#555" stroke-width="0.8"/>
<text x="397.95" y="209.10" font-size="7.8" text-anchor="middle" font-weight="bold" fill="#222">**</text>
<text x="441.00" y="176.80" font-size="14" text-anchor="start" font-weight="bold" fill="#111">F</text>
<line x1="479.60" y1="187.50" x2="479.60" y2="280.70" stroke="#000" stroke-width="1.2"/>
<line x1="479.60" y1="278.70" x2="599.40" y2="278.70" stroke="#505050" stroke-width="1.5"/>
<line x1="477.40" y1="278.70" x2="479.60" y2="278.70" stroke="#000" stroke-width="1.0"/>
<text x="474.40" y="281.00" font-size="6.4" text-anchor="end" font-weight="normal" fill="#3a3a3a">0</text>
<line x1="477.40" y1="267.43" x2="479.60" y2="267.43" stroke="#000" stroke-width="1.0"/>
<text x="474.40" y="269.73" font-size="6.4" text-anchor="end" font-weight="normal" fill="#3a3a3a">200</text>
<line x1="477.40" y1="256.15" x2="479.60" y2="256.15" stroke="#000" stroke-width="1.0"/>
<text x="474.40" y="258.45" font-size="6.4" text-anchor="end" font-weight="normal" fill="#3a3a3a">400</text>
<line x1="477.40" y1="244.88" x2="479.60" y2="244.88" stroke="#000" stroke-width="1.0"/>
<text x="474.40" y="247.18" font-size="6.4" text-anchor="end" font-weight="normal" fill="#3a3a3a">600</text>
<line x1="477.40" y1="233.60" x2="479.60" y2="233.60" stroke="#000" stroke-width="1.0"/>
<text x="474.40" y="235.90" font-size="6.4" text-anchor="end" font-weight="normal" fill="#3a3a3a">800</text>
<line x1="477.40" y1="222.32" x2="479.60" y2="222.32" stroke="#000" stroke-width="1.0"/>
<text x="474.40" y="224.62" font-size="6.4" text-anchor="end" font-weight="normal" fill="#3a3a3a">1000</text>
<line x1="477.40" y1="211.05" x2="479.60" y2="211.05" stroke="#000" stroke-width="1.0"/>
<text x="474.40" y="213.35" font-size="6.4" text-anchor="end" font-weight="normal" fill="#3a3a3a">1200</text>
<line x1="477.40" y1="199.77" x2="479.60" y2="199.77" stroke="#000" stroke-width="1.0"/>
<text x="474.40" y="202.07" font-size="6.4" text-anchor="end" font-weight="normal" fill="#3a3a3a">1400</text>
<line x1="477.40" y1="188.50" x2="479.60" y2="188.50" stroke="#000" stroke-width="1.0"/>
<text x="474.40" y="190.80" font-size="6.4" text-anchor="end" font-weight="normal" fill="#3a3a3a">1600</text>
<line x1="479.60" y1="278.70" x2="479.60" y2="280.90" stroke="#000" stroke-width="1.0"/>
<text x="479.60" y="288.50" font-size="6.4" text-anchor="middle" font-weight="normal" fill="#3a3a3a">-5</text>
<line x1="519.30" y1="278.70" x2="519.30" y2="280.90" stroke="#000" stroke-width="1.0"/>
<text x="519.30" y="288.50" font-size="6.4" text-anchor="middle" font-weight="normal" fill="#3a3a3a">0</text>
<line x1="559.00" y1="278.70" x2="559.00" y2="280.90" stroke="#000" stroke-width="1.0"/>
<text x="559.00" y="288.50" font-size="6.4" text-anchor="middle" font-weight="normal" fill="#3a3a3a">5</text>
<line x1="598.70" y1="278.70" x2="598.70" y2="280.90" stroke="#000" stroke-width="1.0"/>
<text x="598.70" y="288.50" font-size="6.4" text-anchor="middle" font-weight="normal" fill="#3a3a3a">10</text>
<text x="527.00" y="181.40" font-size="8.1" text-anchor="middle" font-weight="bold" fill="#111">Right Flank</text>
<text x="457.20" y="234.10" font-size="6.5" text-anchor="middle" font-weight="bold" fill="#555" transform="rotate(-90 457.2 234.1)">Tumor Volume (mm<tspan dy="-2.2" font-size="4.2">3</tspan><tspan dy="2.2">)</tspan></text>
<line x1="485.30" y1="196.00" x2="502.00" y2="196.00" stroke="#1f4aff" stroke-width="1.4"/>
<line x1="485.30" y1="209.20" x2="502.00" y2="209.20" stroke="#ff1010" stroke-width="1.4"/>
<rect x="491.65" y="194.00" width="4.00" height="4.00" fill="#1f4aff" stroke="none" stroke-width="0"/>
<circle cx="493.65" cy="209.20" r="1.8" fill="#ff1010" stroke="none" stroke-width="0"/>
<text x="503.30" y="198.30" font-size="6.5" text-anchor="start" font-weight="bold" fill="#444">No Treatment R</text>
<text x="503.30" y="211.50" font-size="6.5" text-anchor="start" font-weight="bold" fill="#444">HS201-PDT R</text>
<line x1="543.12" y1="237.66" x2="543.12" y2="243.30" stroke="#8a8a8a" stroke-width="0.9"/>
<line x1="541.22" y1="237.66" x2="545.02" y2="237.66" stroke="#8a8a8a" stroke-width="0.9"/>
<line x1="541.22" y1="243.30" x2="545.02" y2="243.30" stroke="#8a8a8a" stroke-width="0.9"/>
<line x1="559.00" y1="215.39" x2="559.00" y2="220.46" stroke="#8a8a8a" stroke-width="0.9"/>
<line x1="557.10" y1="215.39" x2="560.90" y2="215.39" stroke="#8a8a8a" stroke-width="0.9"/>
<line x1="557.10" y1="220.46" x2="560.90" y2="220.46" stroke="#8a8a8a" stroke-width="0.9"/>
<line x1="574.88" y1="195.26" x2="574.88" y2="208.80" stroke="#8a8a8a" stroke-width="0.9"/>
<line x1="572.98" y1="195.26" x2="576.78" y2="195.26" stroke="#8a8a8a" stroke-width="0.9"/>
<line x1="572.98" y1="208.80" x2="576.78" y2="208.80" stroke="#8a8a8a" stroke-width="0.9"/>
<line x1="559.00" y1="264.04" x2="559.00" y2="271.94" stroke="#8a8a8a" stroke-width="0.9"/>
<line x1="557.10" y1="264.04" x2="560.90" y2="264.04" stroke="#8a8a8a" stroke-width="0.9"/>
<line x1="557.10" y1="271.94" x2="560.90" y2="271.94" stroke="#8a8a8a" stroke-width="0.9"/>
<line x1="574.88" y1="260.38" x2="574.88" y2="271.09" stroke="#8a8a8a" stroke-width="0.9"/>
<line x1="572.98" y1="260.38" x2="576.78" y2="260.38" stroke="#8a8a8a" stroke-width="0.9"/>
<line x1="572.98" y1="271.09" x2="576.78" y2="271.09" stroke="#8a8a8a" stroke-width="0.9"/>
<polyline points="479.60,277.12 511.36,269.23 527.24,261.45 543.12,240.48 559.00,217.93 574.88,202.03" fill="none" stroke="#1f4aff" stroke-width="1.5"/>
<polyline points="479.60,277.12 511.36,270.24 527.24,273.96 543.12,273.96 559.00,267.99 574.88,265.73" fill="none" stroke="#ff1010" stroke-width="1.5"/>
<rect x="508.86" y="266.73" width="5.00" height="5.00" fill="#1f4aff" stroke="none" stroke-width="0"/>
<rect x="524.74" y="258.95" width="5.00" height="5.00" fill="#1f4aff" stroke="none" stroke-width="0"/>
<rect x="540.62" y="237.98" width="5.00" height="5.00" fill="#1f4aff" stroke="none" stroke-width="0"/>
<rect x="556.50" y="215.43" width="5.00" height="5.00" fill="#1f4aff" stroke="none" stroke-width="0"/>
<rect x="572.38" y="199.53" width="5.00" height="5.00" fill="#1f4aff" stroke="none" stroke-width="0"/>
<circle cx="511.36" cy="270.24" r="2.6" fill="#ff1010" stroke="none" stroke-width="0"/>
<circle cx="527.24" cy="273.96" r="2.6" fill="#ff1010" stroke="none" stroke-width="0"/>
<circle cx="543.12" cy="273.96" r="2.6" fill="#ff1010" stroke="none" stroke-width="0"/>
<circle cx="559.00" cy="267.99" r="2.6" fill="#ff1010" stroke="none" stroke-width="0"/>
<circle cx="574.88" cy="265.73" r="2.6" fill="#ff1010" stroke="none" stroke-width="0"/>
<text x="587.90" y="202.80" font-size="7.8" text-anchor="middle" font-weight="normal" fill="#333">****</text>
<line x1="518.40" y1="243.00" x2="518.40" y2="249.00" stroke="#ff1010" stroke-width="0.7"/>
<path d="M516.40 248.50L520.40 248.50L518.40 253.10Z" fill="#ff1010"/>
<line x1="522.40" y1="243.00" x2="522.40" y2="249.00" stroke="#ff1010" stroke-width="0.7"/>
<path d="M520.40 248.50L524.40 248.50L522.40 253.10Z" fill="#ff1010"/>
<text x="537.30" y="294.10" font-size="6.5" text-anchor="middle" font-weight="bold" fill="#484848">Days after Treatment Initiation</text>
<line x1="638.80" y1="189.10" x2="638.80" y2="282.10" stroke="#000" stroke-width="1.2"/>
<line x1="638.80" y1="280.10" x2="758.20" y2="280.10" stroke="#505050" stroke-width="1.5"/>
<line x1="636.60" y1="280.10" x2="638.80" y2="280.10" stroke="#000" stroke-width="1.0"/>
<text x="633.60" y="282.40" font-size="6.4" text-anchor="end" font-weight="normal" fill="#3a3a3a">0</text>
<line x1="636.60" y1="265.10" x2="638.80" y2="265.10" stroke="#000" stroke-width="1.0"/>
<text x="633.60" y="267.40" font-size="6.4" text-anchor="end" font-weight="normal" fill="#3a3a3a">200</text>
<line x1="636.60" y1="250.10" x2="638.80" y2="250.10" stroke="#000" stroke-width="1.0"/>
<text x="633.60" y="252.40" font-size="6.4" text-anchor="end" font-weight="normal" fill="#3a3a3a">400</text>
<line x1="636.60" y1="235.10" x2="638.80" y2="235.10" stroke="#000" stroke-width="1.0"/>
<text x="633.60" y="237.40" font-size="6.4" text-anchor="end" font-weight="normal" fill="#3a3a3a">600</text>
<line x1="636.60" y1="220.10" x2="638.80" y2="220.10" stroke="#000" stroke-width="1.0"/>
<text x="633.60" y="222.40" font-size="6.4" text-anchor="end" font-weight="normal" fill="#3a3a3a">800</text>
<line x1="636.60" y1="205.10" x2="638.80" y2="205.10" stroke="#000" stroke-width="1.0"/>
<text x="633.60" y="207.40" font-size="6.4" text-anchor="end" font-weight="normal" fill="#3a3a3a">1000</text>
<line x1="636.60" y1="190.10" x2="638.80" y2="190.10" stroke="#000" stroke-width="1.0"/>
<text x="633.60" y="192.40" font-size="6.4" text-anchor="end" font-weight="normal" fill="#3a3a3a">1200</text>
<line x1="638.80" y1="280.10" x2="638.80" y2="282.30" stroke="#000" stroke-width="1.0"/>
<text x="638.80" y="289.90" font-size="6.4" text-anchor="middle" font-weight="normal" fill="#3a3a3a">-5</text>
<line x1="678.50" y1="280.10" x2="678.50" y2="282.30" stroke="#000" stroke-width="1.0"/>
<text x="678.50" y="289.90" font-size="6.4" text-anchor="middle" font-weight="normal" fill="#3a3a3a">0</text>
<line x1="718.20" y1="280.10" x2="718.20" y2="282.30" stroke="#000" stroke-width="1.0"/>
<text x="718.20" y="289.90" font-size="6.4" text-anchor="middle" font-weight="normal" fill="#3a3a3a">5</text>
<line x1="757.90" y1="280.10" x2="757.90" y2="282.30" stroke="#000" stroke-width="1.0"/>
<text x="757.90" y="289.90" font-size="6.4" text-anchor="middle" font-weight="normal" fill="#3a3a3a">10</text>
<text x="683.00" y="180.70" font-size="8.1" text-anchor="middle" font-weight="bold" fill="#111">Left Flank</text>
<text x="616.50" y="232.00" font-size="6.5" text-anchor="middle" font-weight="bold" fill="#555" transform="rotate(-90 616.5 232.0)">Tumor Volume (mm<tspan dy="-2.2" font-size="4.2">3</tspan><tspan dy="2.2">)</tspan></text>
<line x1="645.00" y1="194.30" x2="661.80" y2="194.30" stroke="#1f4aff" stroke-width="1.4"/>
<line x1="645.00" y1="208.10" x2="661.80" y2="208.10" stroke="#ff1010" stroke-width="1.4"/>
<rect x="651.70" y="192.60" width="3.40" height="3.40" fill="#fff" stroke="#1f4aff" stroke-width="0.9"/>
<circle cx="653.40" cy="208.10" r="1.7" fill="#fff" stroke="#ff1010" stroke-width="0.9"/>
<text x="662.60" y="196.60" font-size="6.5" text-anchor="start" font-weight="bold" fill="#444">No Treatment L</text>
<text x="662.60" y="210.40" font-size="6.5" text-anchor="start" font-weight="bold" fill="#444">HS201-PDT L</text>
<line x1="702.32" y1="239.38" x2="702.32" y2="246.88" stroke="#8a8a8a" stroke-width="0.9"/>
<line x1="700.42" y1="239.38" x2="704.22" y2="239.38" stroke="#8a8a8a" stroke-width="0.9"/>
<line x1="700.42" y1="246.88" x2="704.22" y2="246.88" stroke="#8a8a8a" stroke-width="0.9"/>
<line x1="718.20" y1="215.82" x2="718.20" y2="230.82" stroke="#8a8a8a" stroke-width="0.9"/>
<line x1="716.30" y1="215.82" x2="720.10" y2="215.82" stroke="#8a8a8a" stroke-width="0.9"/>
<line x1="716.30" y1="230.82" x2="720.10" y2="230.82" stroke="#8a8a8a" stroke-width="0.9"/>
<line x1="734.08" y1="205.47" x2="734.08" y2="219.72" stroke="#8a8a8a" stroke-width="0.9"/>
<line x1="732.18" y1="205.47" x2="735.98" y2="205.47" stroke="#8a8a8a" stroke-width="0.9"/>
<line x1="732.18" y1="219.72" x2="735.98" y2="219.72" stroke="#8a8a8a" stroke-width="0.9"/>
<line x1="702.32" y1="253.62" x2="702.32" y2="258.12" stroke="#8a8a8a" stroke-width="0.9"/>
<line x1="700.42" y1="253.62" x2="704.22" y2="253.62" stroke="#8a8a8a" stroke-width="0.9"/>
<line x1="700.42" y1="258.12" x2="704.22" y2="258.12" stroke="#8a8a8a" stroke-width="0.9"/>
<line x1="718.20" y1="237.65" x2="718.20" y2="246.65" stroke="#8a8a8a" stroke-width="0.9"/>
<line x1="716.30" y1="237.65" x2="720.10" y2="237.65" stroke="#8a8a8a" stroke-width="0.9"/>
<line x1="716.30" y1="246.65" x2="720.10" y2="246.65" stroke="#8a8a8a" stroke-width="0.9"/>
<line x1="734.08" y1="223.40" x2="734.08" y2="235.40" stroke="#8a8a8a" stroke-width="0.9"/>
<line x1="732.18" y1="223.40" x2="735.98" y2="223.40" stroke="#8a8a8a" stroke-width="0.9"/>
<line x1="732.18" y1="235.40" x2="735.98" y2="235.40" stroke="#8a8a8a" stroke-width="0.9"/>
<polyline points="638.80,276.35 670.56,268.85 686.44,260.60 702.32,243.12 718.20,223.33 734.08,212.60" fill="none" stroke="#1f4aff" stroke-width="1.5"/>
<polyline points="638.80,277.85 670.56,269.75 686.44,264.73 702.32,255.88 718.20,242.15 734.08,229.40" fill="none" stroke="#ff1010" stroke-width="1.5"/>
<rect x="667.86" y="266.15" width="5.40" height="5.40" fill="#fff" stroke="#1f4aff" stroke-width="1.0"/>
<rect x="683.74" y="257.90" width="5.40" height="5.40" fill="#fff" stroke="#1f4aff" stroke-width="1.0"/>
<rect x="699.62" y="240.43" width="5.40" height="5.40" fill="#fff" stroke="#1f4aff" stroke-width="1.0"/>
<rect x="715.50" y="220.63" width="5.40" height="5.40" fill="#fff" stroke="#1f4aff" stroke-width="1.0"/>
<rect x="731.38" y="209.90" width="5.40" height="5.40" fill="#fff" stroke="#1f4aff" stroke-width="1.0"/>
<circle cx="670.56" cy="269.75" r="2.7" fill="#fff" stroke="#ff1010" stroke-width="1.0"/>
<circle cx="686.44" cy="264.73" r="2.7" fill="#fff" stroke="#ff1010" stroke-width="1.0"/>
<circle cx="702.32" cy="255.88" r="2.7" fill="#fff" stroke="#ff1010" stroke-width="1.0"/>
<circle cx="718.20" cy="242.15" r="2.7" fill="#fff" stroke="#ff1010" stroke-width="1.0"/>
<circle cx="734.08" cy="229.40" r="2.7" fill="#fff" stroke="#ff1010" stroke-width="1.0"/>
<line x1="678.00" y1="245.00" x2="678.00" y2="251.70" stroke="#ff1010" stroke-width="0.7"/>
<path d="M676.00 251.20L680.00 251.20L678.00 255.80Z" fill="#ff1010"/>
<line x1="682.10" y1="245.00" x2="682.10" y2="251.70" stroke="#ff1010" stroke-width="0.7"/>
<path d="M680.10 251.20L684.10 251.20L682.10 255.80Z" fill="#ff1010"/>
<text x="697.10" y="294.10" font-size="6.5" text-anchor="middle" font-weight="bold" fill="#484848">Days after Treatment Initiation</text>
</svg></body></html>
